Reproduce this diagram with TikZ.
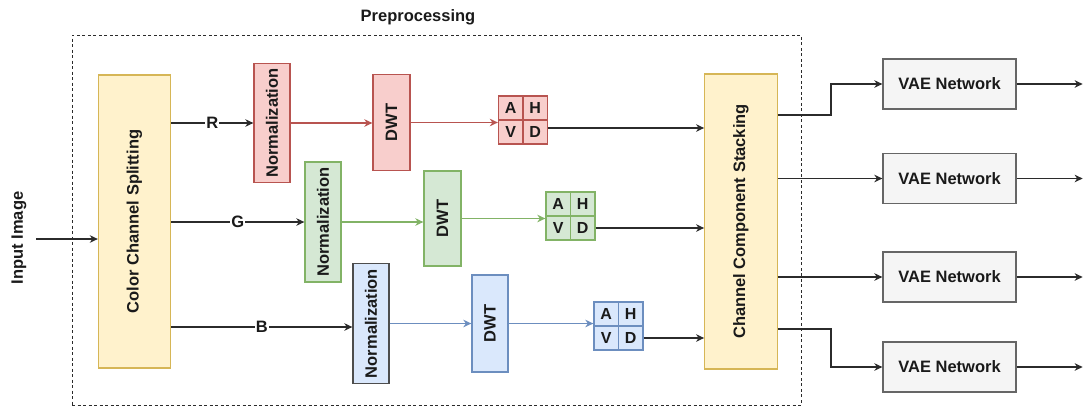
\documentclass[tikz,border=0pt]{standalone}
\usepackage{fontspec}
\setmainfont{Liberation Sans}
\usetikzlibrary{arrows.meta,calc}

\definecolor{txt}{HTML}{1A1A1A}
\definecolor{ln}{HTML}{2B2B2B}
\definecolor{yfill}{HTML}{FFF2CC}
\definecolor{ydraw}{HTML}{D6B656}
\definecolor{rfill}{HTML}{F8CECC}
\definecolor{rdraw}{HTML}{B85450}
\definecolor{gfill}{HTML}{D5E8D4}
\definecolor{gdraw}{HTML}{82B366}
\definecolor{bfill}{HTML}{DAE8FC}
\definecolor{bdraw}{HTML}{6C8EBF}
\definecolor{bdark}{HTML}{4D4D4D}
\definecolor{vfill}{HTML}{F5F5F5}
\definecolor{vdraw}{HTML}{666666}

\begin{document}
\begin{tikzpicture}[x=1pt,y=-1pt,
  every node/.style={font=\fontsize{16.5}{19}\selectfont\bfseries, text=txt},
  box/.style={rectangle, draw, line width=1.3pt, inner sep=0pt},
  yellowbox/.style={box, fill=yfill, draw=ydraw},
  redbox/.style={box, fill=rfill, draw=rdraw},
  greenbox/.style={box, fill=gfill, draw=gdraw},
  bluebox/.style={box, fill=bfill, draw=bdraw},
  vaebox/.style={box, fill=vfill, draw=vdraw, minimum width=133pt, minimum height=50pt},
  normbox/.style={minimum width=36pt, minimum height=119pt},
  dwtbox/.style={minimum width=37pt, minimum height=96pt},
  cell/.style={minimum width=24.5pt, minimum height=24pt,
    font=\fontsize{16}{19}\selectfont\bfseries},
  vtext/.style={rotate=90, inner sep=0pt},
  tip/.style={-{Stealth[length=8pt,width=7.5pt,inset=2.5pt]}},
  arr/.style={tip, line width=1.4pt, draw=ln},
  rarr/.style={tip, line width=1.4pt, draw=rdraw},
  garr/.style={tip, line width=1.4pt, draw=gdraw},
  barr/.style={tip, line width=1.4pt, draw=bdraw},
  chlabel/.style={midway, fill=white, inner sep=1pt},
  prebox/.style={rectangle, draw=ln, line width=1pt, dash pattern=on 3pt off 2.5pt, inner sep=0pt}
]
\useasboundingbox (0,0) rectangle (1083,407);

% preprocessing frame
\node[prebox, minimum width=729pt, minimum height=370pt] (pre) at (436.5,220) {};
\node (pretitle) at (418,17) {Preprocessing};

% input
\node[vtext] (inimg) at (19,238) {Input Image};
\coordinate (instart) at ([shift={(17,1)}]inimg.center);

% channel splitting
\node[yellowbox, minimum width=72pt, minimum height=293pt] (split) at (134.5,221.5) {};
\node[vtext] (split-t) at (split) {Color Channel Splitting};

% red branch
\node[redbox, normbox] (rnorm) at (272,123) {};
\node[vtext] (rnorm-t) at (rnorm) {Normalization};
\node[redbox, dwtbox] (rdwt) at (391.5,122.5) {};
\node[vtext] (rdwt-t) at (rdwt) {DWT};
\node[redbox, cell] (rA) at (510.75,108) {A};
\node[redbox, cell] (rH) at (535.25,108) {H};
\node[redbox, cell] (rV) at (510.75,132) {V};
\node[redbox, cell] (rD) at (535.25,132) {D};

% green branch
\node[greenbox, normbox, minimum height=120pt] (gnorm) at (323,222) {};
\node[vtext] (gnorm-t) at (gnorm) {Normalization};
\node[greenbox, dwtbox, minimum height=95pt] (gdwt) at (442.5,218.5) {};
\node[vtext] (gdwt-t) at (gdwt) {DWT};
\node[greenbox, cell] (gA) at (558.25,204) {A};
\node[greenbox, cell] (gH) at (582.75,204) {H};
\node[greenbox, cell] (gV) at (558.25,228) {V};
\node[greenbox, cell] (gD) at (582.75,228) {D};

% blue branch
\node[bluebox, draw=bdark, normbox, minimum height=120pt] (bnorm) at (371,323.5) {};
\node[vtext] (bnorm-t) at (bnorm) {Normalization};
\node[bluebox, dwtbox, minimum width=36pt, minimum height=97pt] (bdwt) at (490,323.5) {};
\node[vtext] (bdwt-t) at (bdwt) {DWT};
\node[bluebox, cell] (bA) at (606.25,314) {A};
\node[bluebox, cell] (bH) at (630.75,314) {H};
\node[bluebox, cell] (bV) at (606.25,338) {V};
\node[bluebox, cell] (bD) at (630.75,338) {D};

% stacking
\node[yellowbox, minimum width=72.5pt, minimum height=295pt] (stack) at (741,221.5) {};
\node[vtext] (stack-t) at (stack) {Channel Component Stacking};

% VAE networks
\node[vaebox] (vae1) at (949.5,84) {VAE Network};
\node[vaebox] (vae2) at (949.5,178.5) {VAE Network};
\node[vaebox] (vae3) at (949.5,277) {VAE Network};
\node[vaebox] (vae4) at (949.5,367) {VAE Network};

% connectors
\draw[arr] (instart) -- (instart -| split.west);

\draw[arr] (split.east |- rnorm.west) -- node[chlabel] (lR) {R} (rnorm.west);
\draw[arr] (split.east |- gnorm.west) -- node[chlabel] (lG) {G} (gnorm.west);
\draw[arr] ([yshift=-3.5pt]split.east |- bnorm.west) -- node[chlabel] (lB) {B} ([yshift=-3.5pt]bnorm.west);

\draw[rarr] (rnorm.east) -- (rnorm.east -| rdwt.west);
\draw[rarr] (rdwt.east) -- (rdwt.east -| rA.west);
\draw[garr] (gnorm.east) -- (gnorm.east -| gdwt.west);
\draw[garr] (gdwt.east) -- (gdwt.east -| gA.west);
\draw[barr] (bnorm.east) -- (bnorm.east -| bdwt.west);
\draw[barr] (bdwt.east) -- (bdwt.east -| bA.west);

\draw[arr] ([yshift=4pt]rD.east) -- ([yshift=4pt]rD.east -| stack.west);
\draw[arr] (gD.east) -- (gD.east -| stack.west);
\draw[arr] (bD.east) -- (bD.east -| stack.west);

\draw[arr] ([yshift=106.5pt]stack.east) -- ++(53,0) |- (vae1.west);
\draw[arr] (stack.east |- vae2.west) -- (vae2.west);
\draw[arr] (stack.east |- vae3.west) -- (vae3.west);
\draw[arr] ([yshift=-107.5pt]stack.east) -- ++(53,0) |- (vae4.west);

\foreach \v in {vae1,vae2,vae3,vae4}{
  \draw[arr] (\v.east) -- ++(66,0) coordinate (\v-out);
}
\end{tikzpicture}
\end{document}
